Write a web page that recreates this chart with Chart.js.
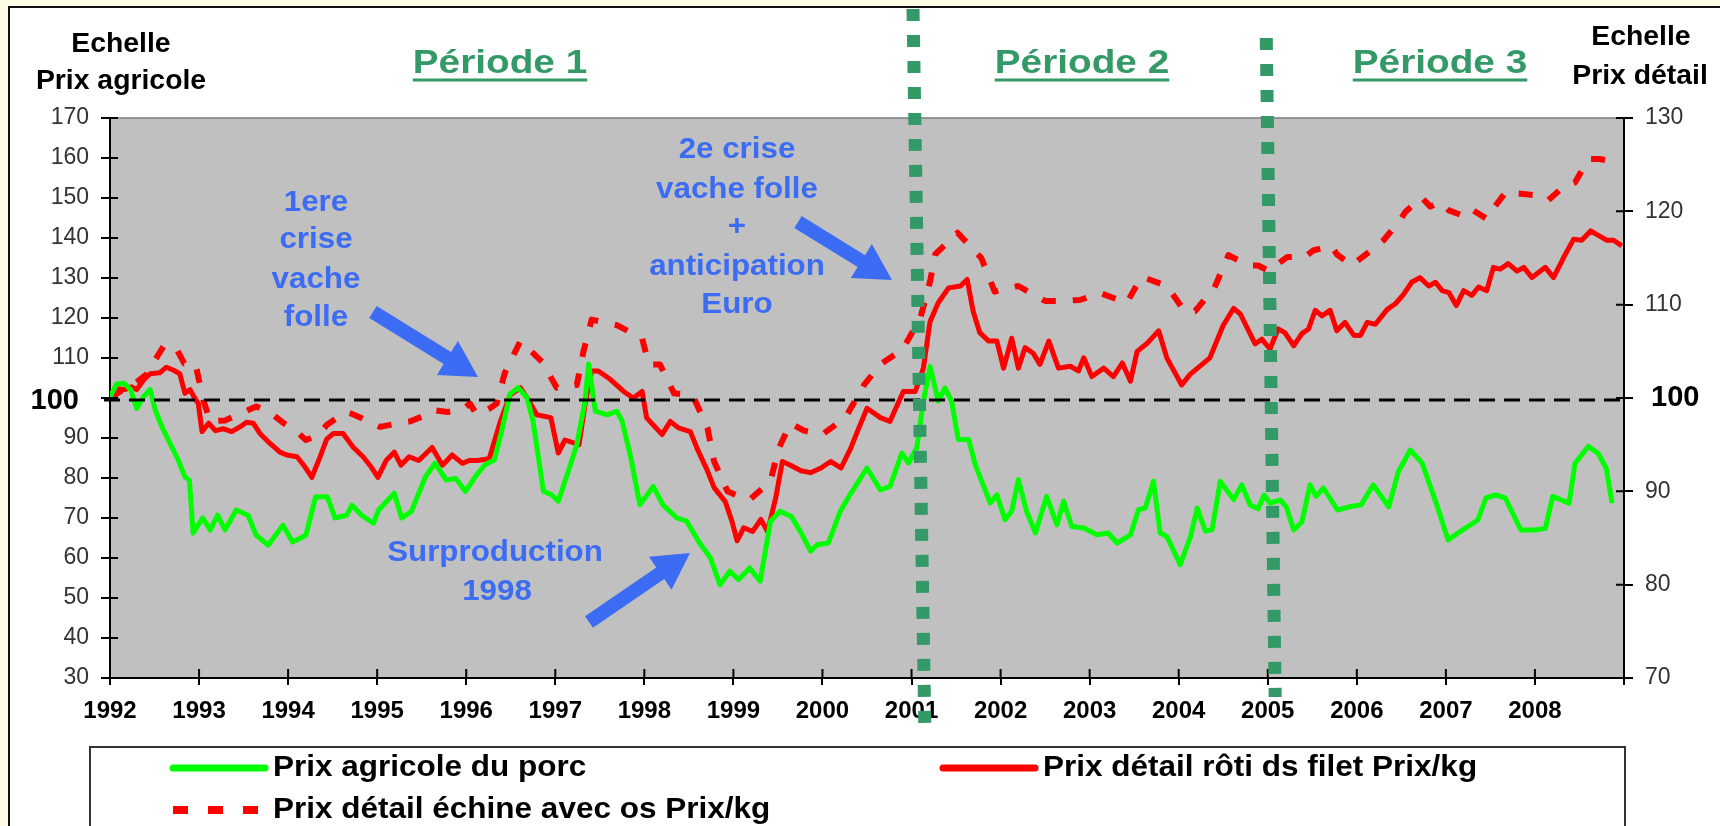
<!DOCTYPE html>
<html lang="fr">
<head>
<meta charset="utf-8">
<title>Prix du porc : agricole et détail</title>
<script src="https://cdn.jsdelivr.net/npm/chart.js@4.4.1/dist/chart.umd.min.js"></script>
<style>
  html, body { margin: 0; padding: 0; background: #fdfbe6; }
  #wrap { position: relative; width: 1720px; height: 826px; }
</style>
</head>
<body>
<div id="wrap"><canvas id="chart" width="1720" height="826"></canvas></div>
<script>
const FONT = "'Liberation Sans', Arial, sans-serif";

// x axis: months counted from January 1992, one tick label per year
const yearLabels = ['1992', '1993', '1994', '1995', '1996', '1997', '1998', '1999', '2000',
  '2001', '2002', '2003', '2004', '2005', '2006', '2007', '2008'];

// Prix agricole du porc (left scale) : [month, index]
const agriPrice = [
  [0, 100.3], [0.9, 103.5], [1.9, 103.7], [2.8, 102], [3.6, 97.4], [4.5, 100.3], [5.4, 102.1], [6.1, 97],
  [7.0, 92.8], [8.1, 88.6], [9.2, 84.5], [10.1, 80.2], [10.7, 79.5], [11.2, 66.2], [12.5, 70], [13.5, 67],
  [14.5, 70.7], [15.5, 67], [17, 72], [18.6, 70.7], [19.7, 65.7], [21.3, 63.2], [23.3, 68.2], [24.6, 64],
  [26.4, 65.7], [27.7, 75.3], [29.3, 75.3], [30.3, 70], [31.9, 70.7], [32.6, 73.2], [33.9, 70.7], [35.5, 68.7],
  [36.2, 72], [38.3, 76.2], [39.3, 70], [40.6, 71.6], [42.5, 80.3], [43.8, 83.7], [45.3, 79.5], [46.6, 79.9],
  [47.9, 76.6], [49.2, 80.3], [50.5, 83.3], [51.8, 84.5], [52.8, 92], [53.9, 101], [55, 102.6], [56.2, 100],
  [57, 94.2], [58.4, 76.7], [59.5, 75.8], [60.4, 74.2], [61.6, 80.8], [62.9, 88.3], [64, 99.2], [64.5, 108.5],
  [65.4, 96.7], [67, 95.8], [68.3, 96.7], [69, 94.2], [70.1, 85.8], [71.4, 73.3], [73.2, 77.9], [74.5, 73.3],
  [76.4, 70], [77.7, 69.2], [79.3, 64.2], [80.9, 60], [82.2, 53.3], [83.5, 56.7], [84.7, 54.6], [86.2, 57.5],
  [87.6, 54.2], [89, 69.2], [90.3, 71.7], [91.8, 70.4], [93, 66.7], [94.4, 61.7], [95.3, 63.3], [96.8, 63.75],
  [98.4, 71.7], [99.7, 75.8], [102, 82.5], [103.8, 77], [105.1, 77.9], [106.7, 86.25], [107.6, 83.75], [108.7, 87.5],
  [109.6, 99.2], [110.5, 107.9], [111.6, 99.2], [112.5, 102.5], [113.4, 99.2], [114.3, 89.6], [115.7, 89.6], [116.6, 83.3],
  [118.6, 73.75], [119.5, 75.8], [120.6, 69.6], [121.5, 71.7], [122.4, 79.6], [123.5, 71.7], [124.7, 66.25], [126.2, 75.4],
  [127.6, 68.3], [128.5, 74.2], [129.6, 67.9], [131.2, 67.5], [133, 65.8], [134.5, 66.25], [135.7, 63.75], [137.5, 65.8],
  [138.6, 72.1], [139.5, 72.5], [140.6, 79.2], [141.5, 66.25], [142.4, 65.4], [144.2, 58.3], [145.6, 65.4], [146.5, 72.5],
  [147.6, 66.7], [148.5, 67.1], [149.6, 79.2], [151.4, 74.6], [152.5, 78.3], [153.6, 73.3], [154.7, 72.3], [155.5, 75.75],
  [156.3, 73.7], [157.7, 74.5], [158.5, 72.8], [159.5, 67], [160.6, 69], [161.7, 78.3], [162.5, 75.4], [163.5, 77.5],
  [165.4, 72], [167, 72.8], [168.6, 73.3], [170.2, 78.3], [172.3, 72.8], [173.6, 81.6], [175.2, 87], [176.8, 83.7],
  [178.7, 73.7], [180.3, 64.5], [181.6, 66.2], [184.3, 69.5], [185.4, 75], [186.7, 75.75], [188, 75], [190.1, 67],
  [192, 67], [193.4, 67.4], [194.4, 75.4], [196.6, 73.7], [197.4, 83.7], [199.2, 87.9], [200.5, 86.2], [201.6, 82.5],
  [202.4, 73.7]
];

// Prix détail rôti ds filet (right scale)
const filetPrice = [
  [0, 100.1], [0.9, 101.0], [2, 100.9], [2.9, 101.2], [3.6, 100.9], [4.5, 101.9], [5.4, 102.6], [6.7, 102.7],
  [7.6, 103.3], [8.5, 103.0], [9.4, 102.6], [10.1, 100.5], [10.8, 100.9], [11.4, 100.0], [11.9, 99.4], [12.4, 96.4],
  [13.3, 97.3], [14.2, 96.5], [15.3, 96.7], [16.4, 96.4], [17.5, 96.9], [18.4, 97.4], [19.3, 97.3], [20.2, 96.2],
  [21.6, 95.1], [22.9, 94.2], [23.8, 93.9], [25.2, 93.7], [26.1, 92.8], [27.2, 91.5], [28.3, 93.7], [29.2, 95.6],
  [30.1, 96.2], [31.4, 96.2], [32.8, 94.7], [34.1, 93.7], [35.2, 92.6], [36.1, 91.5], [37.2, 93.3], [38.3, 94.2],
  [39.2, 92.8], [40.3, 93.7], [41.6, 93.3], [43.4, 94.7], [44.8, 92.8], [46.1, 93.9], [47.5, 93.0], [48.4, 93.3],
  [49.5, 93.3], [51.1, 93.5], [52.6, 97.5], [53.9, 100.3], [55.3, 101.1], [56.6, 99.5], [57.5, 98.2], [59.4, 97.9],
  [60.4, 94.1], [61.3, 95.5], [63.2, 95.0], [64, 99.3], [64.9, 102.9], [65.8, 102.9], [67.4, 102.0], [69.2, 100.7],
  [70.5, 100], [71.7, 100.7], [72.3, 97.9], [73.2, 97.1], [74.4, 96.1], [75.5, 97.5], [76.6, 96.8], [78.2, 96.4],
  [79.1, 94.6], [80.5, 92.2], [81.4, 90.4], [82.9, 88.9], [83.8, 86.8], [84.5, 84.7], [85.4, 86.1], [86.6, 85.7],
  [87.7, 87.0], [88.6, 85.7], [89.7, 89.3], [90.6, 93.2], [91.7, 92.8], [93.1, 92.2], [94.4, 92.0], [95.8, 92.5],
  [97.1, 93.2], [98.5, 92.5], [99.8, 94.6], [100.7, 96.4], [102, 98.9], [103.8, 97.9], [105.1, 97.5], [106.9, 100.7],
  [108.5, 100.7], [109.6, 103.2], [110.5, 108.2], [111.6, 110.2], [113, 111.8], [114.6, 112.0], [115.5, 112.7], [116.3, 109.3],
  [117.2, 107.0], [118.4, 106.1], [119.5, 106.1], [120.4, 103.2], [121.5, 106.4], [122.4, 103.2], [123.3, 105.4], [124.4, 104.8],
  [125.3, 103.6], [126.5, 106.1], [127.8, 103.2], [129.4, 103.4], [130.5, 102.9], [131.2, 104.3], [132.3, 102.3], [133.9, 103.2],
  [135.2, 102.3], [136.4, 103.75], [137.5, 101.8], [138.4, 105.0], [139.8, 105.9], [141.3, 107.2], [142.4, 104.3], [144.4, 101.4],
  [145.5, 102.5], [148.2, 104.3], [150, 107.8], [151.4, 109.6], [152.3, 109], [154.3, 105.8], [155.2, 106.3], [156.3, 105.25],
  [157.4, 107.4], [158.3, 107], [159.5, 105.6], [160.6, 106.9], [161.5, 107.4], [162.4, 109.4], [163.3, 108.8], [164.4, 109.4],
  [165.3, 107.2], [166.4, 108.1], [167.6, 106.7], [168.5, 106.7], [169.4, 108.1], [170.5, 107.9], [172.1, 109.5], [173.2, 110.1],
  [174.3, 111.1], [175.4, 112.4], [176.5, 112.9], [177.7, 112], [178.6, 112.4], [179.5, 111.5], [180.4, 111.3], [181.4, 109.9],
  [182.4, 111.5], [183.5, 111], [184.4, 111.9], [185.5, 111.5], [186.4, 114], [187.3, 113.8], [188.4, 114.4], [189.6, 113.6],
  [190.5, 114], [191.6, 112.9], [193.4, 114], [194.5, 112.9], [195.9, 115.1], [197.2, 117], [198.3, 116.9], [199.5, 117.9],
  [200.6, 117.4], [201.7, 116.9], [202.6, 116.9], [203.7, 116.3]
];

// Prix détail échine avec os (right scale)
const echinePrice = [
  [0, 100], [2, 101], [3.6, 101.7], [5, 102.6], [6, 104], [7.2, 105.5], [8.8, 105.5], [10, 103.7],
  [11.5, 103.7], [12.6, 99.7], [13.5, 97.5], [15.5, 97.6], [17.5, 98.3], [19.7, 99.1], [21.5, 98.5], [23.4, 97.3],
  [25, 96.5], [26.4, 95.5], [28, 96], [29.2, 97.1], [31.7, 98.5], [32.6, 98.3], [34, 97.8], [36.4, 96.9],
  [38.8, 97.3], [40.5, 97.5], [42.6, 98.2], [43.5, 98.7], [45.5, 98.5], [47.6, 98.8], [48.5, 99.4], [49.4, 98.2],
  [51.2, 98.9], [52.1, 99.4], [53.2, 102.7], [55.3, 106.1], [58.2, 103.9], [60.2, 101.1], [62.9, 101.4], [63.8, 105.0],
  [64.9, 108.4], [68.3, 107.8], [71.7, 106.4], [72.6, 103.6], [74.1, 103.6], [76, 100.5], [78.5, 100.3], [80.5, 96.8],
  [81.4, 93.2], [83.2, 90.0], [84.7, 89.5], [86.2, 89.1], [89, 91.1], [90.1, 94.6], [91.7, 97.3], [93.5, 96.5],
  [96, 96.1], [99.1, 97.9], [101.6, 101.4], [103.8, 103.6], [106.8, 105.2], [109.2, 108.6], [110.5, 112.5], [111.2, 115.4],
  [114.2, 117.7], [117.4, 115.0], [119.2, 111.4], [122.4, 112.0], [126, 110.4], [128.2, 110.4], [130.7, 110.5], [133.4, 111.25],
  [137, 110.2], [139, 113.0], [142.4, 112.0], [144.8, 109.3], [146.2, 109.3], [148.8, 111.8], [150.7, 115.3], [153.4, 114.2],
  [154.7, 114.2], [156.2, 113.6], [157.4, 114.4], [158.6, 115.1], [161, 115.1], [162.1, 115.8], [164.6, 116.3], [165.3, 115.4],
  [167.3, 114.2], [170.2, 116], [171.6, 116.9], [173.8, 119], [174.5, 119.9], [176.7, 121.5], [177.9, 120.5], [179.2, 121],
  [180.4, 120.1], [182.8, 119.4], [183.7, 120.1], [185.5, 119.2], [186.2, 120.1], [188.2, 122.2], [189.8, 121.9], [192.4, 121.7],
  [193.8, 121.2], [196, 122.75], [197.4, 123.1], [199.2, 125.6], [200.7, 125.6], [203, 125.3]
];

const seriesLabels = ['Prix agricole du porc', 'Prix détail rôti ds filet Prix/kg', 'Prix détail échine avec os Prix/kg'];
const periodLabels = ['Période 1', 'Période 2', 'Période 3'];
const breakMonths = [108, 156]; // janvier 2001, janvier 2005

const toPoints = rows => rows.map(([m, v]) => ({ x: m, y: v }));

const BLUE = '#3b6cf3';
const GREEN = '#339966';

// draws text squeezed/stretched horizontally, like the source slide
function drawText(ctx, str, x, y, size, color, align = 'center', sx = 1, weight = 'bold', baseline = 'middle') {
  ctx.save();
  ctx.font = `${weight} ${size}px ${FONT}`;
  ctx.fillStyle = color;
  ctx.textAlign = align;
  ctx.textBaseline = baseline;
  ctx.translate(x, y);
  ctx.scale(sx, 1);
  ctx.fillText(str, 0, 0);
  const w = ctx.measureText(str).width * sx;
  ctx.restore();
  return w;
}

function blockArrow(ctx, x1, y1, x2, y2) {
  const ang = Math.atan2(y2 - y1, x2 - x1);
  const len = Math.hypot(x2 - x1, y2 - y1);
  const shaft = 7, head = 20, headLen = 36;
  ctx.save();
  ctx.translate(x1, y1);
  ctx.rotate(ang);
  ctx.beginPath();
  ctx.moveTo(0, -shaft);
  ctx.lineTo(len - headLen, -shaft);
  ctx.lineTo(len - headLen, -head);
  ctx.lineTo(len, 0);
  ctx.lineTo(len - headLen, head);
  ctx.lineTo(len - headLen, shaft);
  ctx.lineTo(0, shaft);
  ctx.closePath();
  ctx.fillStyle = BLUE;
  ctx.fill();
  ctx.restore();
}

const slidePlugin = {
  id: 'slide',
  beforeDraw(chart) {
    const { ctx, chartArea: a, width, height } = chart;
    ctx.save();
    ctx.fillStyle = '#fdfbe6';
    ctx.fillRect(0, 0, width, height);
    ctx.fillStyle = '#ffffff';
    ctx.fillRect(9, 7, width, height);
    ctx.strokeStyle = '#111';
    ctx.lineWidth = 2;
    ctx.beginPath();
    ctx.moveTo(9, height);
    ctx.lineTo(9, 7);
    ctx.lineTo(width, 7);
    ctx.stroke();
    // plot area
    ctx.fillStyle = '#c0c0c0';
    ctx.fillRect(a.left, a.top, a.right - a.left, a.bottom - a.top);
    ctx.strokeStyle = '#7c7c7c';
    ctx.lineWidth = 1.5;
    ctx.beginPath();
    ctx.moveTo(a.left, a.top);
    ctx.lineTo(a.right, a.top);
    ctx.stroke();
    ctx.restore();
  },
  afterDatasetsDraw(chart) {
    const { ctx, chartArea: a } = chart;
    const yL = chart.scales.yLeft;
    // base 100 reference
    const y100 = yL.getPixelForValue(99.5);
    ctx.save();
    ctx.strokeStyle = '#000';
    ctx.lineWidth = 3;
    ctx.setLineDash([16, 9]);
    ctx.beginPath();
    ctx.moveTo(a.left - 6, y100);
    ctx.lineTo(a.right + 2, y100);
    ctx.stroke();
    ctx.restore();
  },
  afterDraw(chart) {
    const { ctx, chartArea: a } = chart;
    const xs = chart.scales.x, yL = chart.scales.yLeft, yR = chart.scales.yRight;

    // tick marks crossing into the plot
    ctx.save();
    ctx.strokeStyle = '#000';
    ctx.lineWidth = 2;
    ctx.beginPath();
    yL.ticks.forEach(t => { const y = yL.getPixelForValue(t.value); ctx.moveTo(a.left, y); ctx.lineTo(a.left + 8, y); });
    yR.ticks.forEach(t => { const y = yR.getPixelForValue(t.value); ctx.moveTo(a.right - 8, y); ctx.lineTo(a.right, y); });
    xs.ticks.forEach(t => { const x = xs.getPixelForValue(t.value); ctx.moveTo(x, a.bottom - 9); ctx.lineTo(x, a.bottom); });
    ctx.stroke();
    ctx.restore();

    // bold 100 on both scales
    drawText(ctx, '100', a.left - 31, yL.getPixelForValue(99.3), 29, '#000', 'right', 1);
    drawText(ctx, '100', a.right + 27, yR.getPixelForValue(100), 29, '#000', 'left', 1);

    // scale titles
    drawText(ctx, 'Echelle', 121, 45, 27, '#000', 'center', 1.05);
    drawText(ctx, 'Prix agricole', 121, 82, 27, '#000', 'center', 1.05);
    drawText(ctx, 'Echelle', 1641, 38, 27, '#000', 'center', 1.05);
    drawText(ctx, 'Prix détail', 1640, 77, 27, '#000', 'center', 1.05);

    // period separators (dotted green verticals)
    ctx.save();
    ctx.strokeStyle = GREEN;
    ctx.lineWidth = 13;
    ctx.setLineDash([12, 14]);
    ctx.beginPath();
    ctx.moveTo(xs.getPixelForValue(breakMonths[0] + 0.2), 9);
    ctx.lineTo(xs.getPixelForValue(breakMonths[0] + 1.8), 730);
    ctx.moveTo(xs.getPixelForValue(breakMonths[1] - 0.2), 38);
    ctx.lineTo(xs.getPixelForValue(breakMonths[1] + 1.0), 697);
    ctx.stroke();
    ctx.restore();

    // period titles, underlined
    const periodCenters = [500, 1082, 1440];
    periodLabels.forEach((txt, i) => {
      const w = drawText(ctx, txt, periodCenters[i], 73, 34, GREEN, 'center', 1.14, 'bold', 'alphabetic');
      ctx.save();
      ctx.strokeStyle = GREEN;
      ctx.lineWidth = 3;
      ctx.beginPath();
      ctx.moveTo(periodCenters[i] - w / 2, 80);
      ctx.lineTo(periodCenters[i] + w / 2, 80);
      ctx.stroke();
      ctx.restore();
    });

    // annotations
    ['1ere', 'crise', 'vache', 'folle'].forEach((s, i) => drawText(ctx, s, 316, [203, 240, 280, 318][i], 29, BLUE, 'center', 1.08));
    blockArrow(ctx, 373, 312, 478, 377);
    ['2e crise', 'vache folle', '+', 'anticipation', 'Euro'].forEach((s, i) =>
      drawText(ctx, s, 737, [150, 190, 227, 267, 305][i], 29, BLUE, 'center', 1.08));
    blockArrow(ctx, 798, 222, 892, 280);
    drawText(ctx, 'Surproduction', 495, 553, 29, BLUE, 'center', 1.08);
    drawText(ctx, '1998', 497, 592, 29, BLUE, 'center', 1.08);
    blockArrow(ctx, 589, 622, 690, 553);

    // legend box
    const ds = chart.data.datasets;
    ctx.save();
    ctx.fillStyle = '#fff';
    ctx.fillRect(90, 747, 1535, 100);
    ctx.strokeStyle = '#333';
    ctx.lineWidth = 2;
    ctx.strokeRect(90, 747, 1535, 100);
    const items = [
      { d: ds[0], x: 173, y: 768, w: 7 },
      { d: ds[1], x: 943, y: 768, w: 7 },
      { d: ds[2], x: 173, y: 810, w: 8 }
    ];
    items.forEach(it => {
      ctx.save();
      ctx.strokeStyle = it.d.borderColor;
      ctx.lineWidth = it.w;
      ctx.lineCap = it.d.borderDash ? 'butt' : 'round';
      ctx.setLineDash(it.d.borderDash ? [15, 20] : []);
      ctx.beginPath();
      ctx.moveTo(it.x, it.y);
      ctx.lineTo(it.x + 92, it.y);
      ctx.stroke();
      ctx.restore();
      drawText(ctx, it.d.label, it.x + 100, it.y, 30, '#000', 'left', 1.05);
    });
    ctx.restore();
  }
};

const tickFont = { family: FONT, size: 23 };

new Chart(document.getElementById('chart').getContext('2d'), {
  type: 'line',
  data: {
    datasets: [
      {
        label: seriesLabels[0],
        data: toPoints(agriPrice),
        yAxisID: 'yLeft',
        borderColor: '#00ff00',
        borderWidth: 5
      },
      {
        label: seriesLabels[1],
        data: toPoints(filetPrice),
        yAxisID: 'yRight',
        borderColor: '#ff0000',
        borderWidth: 5
      },
      {
        label: seriesLabels[2],
        data: toPoints(echinePrice),
        yAxisID: 'yRight',
        borderColor: '#ff0000',
        borderWidth: 6,
        borderDash: [14, 17]
      }
    ]
  },
  options: {
    responsive: false,
    animation: false,
    devicePixelRatio: 1,
    layout: { padding: { top: 118, left: 0, right: 0, bottom: 0 } },
    elements: {
      point: { radius: 0 },
      line: { tension: 0, borderJoinStyle: 'round', fill: false }
    },
    plugins: {
      legend: { display: false },
      tooltip: { enabled: false }
    },
    scales: {
      x: {
        type: 'linear',
        min: 0,
        max: 204,
        ticks: {
          stepSize: 12,
          autoSkip: false,
          maxRotation: 0,
          padding: 12,
          color: '#000',
          font: { family: FONT, size: 24, weight: 'bold' },
          callback: v => yearLabels[v / 12] ?? ''
        },
        grid: { drawOnChartArea: false, color: '#000', lineWidth: 2, tickLength: 7 },
        border: { color: '#000', width: 2 },
        afterFit(scale) { scale.height = 148; }
      },
      yLeft: {
        position: 'left',
        min: 30,
        max: 170,
        ticks: {
          stepSize: 10,
          padding: 12,
          color: '#333',
          font: tickFont,
          callback: v => (v === 100 ? '' : v)
        },
        grid: { drawOnChartArea: false, color: '#000', lineWidth: 2, tickLength: 9 },
        border: { color: '#000', width: 2 },
        afterFit(scale) { scale.width = 110; }
      },
      yRight: {
        position: 'right',
        min: 70,
        max: 130,
        ticks: {
          stepSize: 10,
          padding: 12,
          color: '#333',
          font: tickFont,
          callback: v => (v === 100 ? '' : v)
        },
        grid: { drawOnChartArea: false, color: '#000', lineWidth: 2, tickLength: 9 },
        border: { color: '#000', width: 2 },
        afterFit(scale) { scale.width = 96; }
      }
    }
  },
  plugins: [slidePlugin]
});
</script>
</body>
</html>
